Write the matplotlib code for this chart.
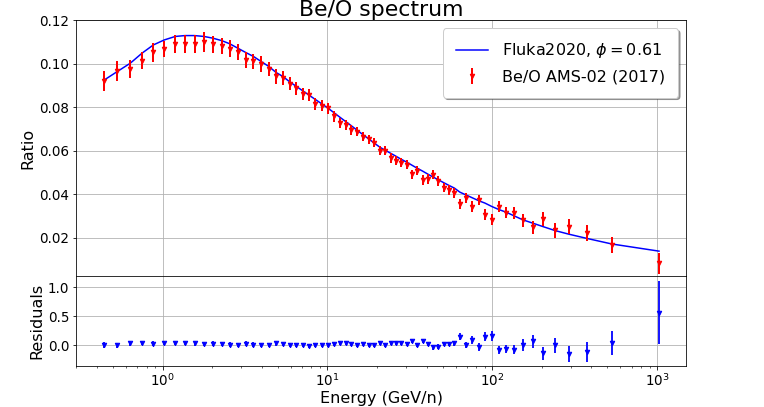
import numpy as np
import matplotlib
matplotlib.use('Agg')
from matplotlib import pyplot as plt

# energies in GeV/n
energy = [0.443, 0.532, 0.637, 0.750, 0.879, 1.024, 1.194, 1.367, 1.563, 1.782,
          2.02, 2.28, 2.56, 2.86, 3.20, 3.56, 3.96, 4.41, 4.89, 5.37,
          5.89, 6.46, 7.09, 7.78, 8.46, 9.25, 10.1, 10.98, 11.94, 12.9,
          14.0, 15.2, 16.4, 17.8, 19.3, 20.8, 22.4, 24.2, 26.1, 28.1,
          30.3, 32.6, 35.1, 37.8, 40.7, 43.7, 47.1, 50.7, 54.7, 58.9,
          63.7, 69.0, 75.3, 82.7, 90.3, 99.6, 109.9, 121.7, 135.9, 153.4,
          175.7, 203, 239.7, 291.6, 378, 531, 1028]

# Be/O AMS-02 (2017)
ams_ratio = [0.0922, 0.0965, 0.0976, 0.1015, 0.1054, 0.1068, 0.1091, 0.1091, 0.1092, 0.1101,
             0.1089, 0.1083, 0.1070, 0.1055, 0.1018, 0.1011, 0.0999, 0.0976, 0.0942, 0.0937,
             0.0908, 0.0888, 0.0862, 0.0857, 0.0816, 0.0807, 0.0796, 0.0758, 0.0730, 0.0718,
             0.0697, 0.0689, 0.0666, 0.0654, 0.0638, 0.0600, 0.0600, 0.0567, 0.0554, 0.0546,
             0.0536, 0.0493, 0.0509, 0.0467, 0.0471, 0.0491, 0.0462, 0.0431, 0.0421, 0.0405,
             0.0354, 0.0385, 0.0344, 0.0373, 0.0306, 0.0283, 0.0344, 0.0316, 0.0313, 0.0280,
             0.0249, 0.0286, 0.0234, 0.0252, 0.0222, 0.0168, 0.0084]
ams_err = [0.0047, 0.0046, 0.0041, 0.0040, 0.0044, 0.0038, 0.0040, 0.0040, 0.0040, 0.0045,
           0.0040, 0.0038, 0.0038, 0.0038, 0.0036, 0.0035, 0.0035, 0.0034, 0.0034, 0.0032,
           0.0030, 0.0030, 0.0029, 0.0028, 0.0027, 0.0026, 0.0025, 0.0024, 0.0023, 0.0023,
           0.0022, 0.0022, 0.0021, 0.0021, 0.0021, 0.0021, 0.0021, 0.0021, 0.0021, 0.0021,
           0.0021, 0.0021, 0.0021, 0.0022, 0.0022, 0.0022, 0.0022, 0.0022, 0.0023, 0.0023,
           0.0023, 0.0023, 0.0024, 0.0024, 0.0025, 0.0025, 0.0026, 0.0026, 0.0027, 0.0029,
           0.0030, 0.0032, 0.0033, 0.0034, 0.0036, 0.0037, 0.0048]

# Fluka2020 model, phi = 0.61
fluka_ratio = [0.0926, 0.0965, 0.1003, 0.1049, 0.1087, 0.1110, 0.1126, 0.1130, 0.1130, 0.1126,
               0.1118, 0.1107, 0.1092, 0.1072, 0.1052, 0.1034, 0.1011, 0.0988, 0.0960, 0.0942,
               0.0918, 0.0897, 0.0876, 0.0855, 0.0836, 0.0816, 0.0796, 0.0775, 0.0754, 0.0735,
               0.0715, 0.0694, 0.0675, 0.0655, 0.0635, 0.0617, 0.0603, 0.0589, 0.0575, 0.0561,
               0.0548, 0.0534, 0.0520, 0.0507, 0.0493, 0.0480, 0.0467, 0.0454, 0.0441, 0.0429,
               0.0410, 0.0398, 0.0385, 0.0371, 0.0360, 0.0344, 0.0330, 0.0318, 0.0301, 0.0283,
               0.0268, 0.0252, 0.0234, 0.0217, 0.0197, 0.0172, 0.0139]

residual = [0.0, -0.005, 0.03, 0.035, 0.025, 0.04, 0.035, 0.035, 0.03, 0.02,
            0.025, 0.02, 0.01, 0.005, 0.025, 0.01, 0.005, 0.005, 0.03, 0.02,
            0.01, 0.0, 0.0, -0.015, 0.0, 0.0, -0.005, 0.02, 0.04, 0.03,
            0.025, 0.005, 0.015, 0.01, 0.005, 0.03, 0.01, 0.035, 0.035, 0.03,
            0.02, 0.07, 0.0, 0.07, 0.02, -0.04, -0.025, 0.02, 0.02, 0.03,
            0.145, 0.0, 0.09, -0.03, 0.145, 0.16, -0.08, -0.06, -0.08, 0.0,
            0.065, -0.145, 0.0, -0.155, -0.115, 0.035, 0.565]
residual_err = [0.05, 0.045, 0.04, 0.04, 0.04, 0.04, 0.04, 0.04, 0.04, 0.04,
                0.04, 0.04, 0.04, 0.04, 0.04, 0.04, 0.04, 0.04, 0.04, 0.04,
                0.035, 0.035, 0.035, 0.035, 0.035, 0.035, 0.035, 0.035, 0.035, 0.035,
                0.035, 0.035, 0.035, 0.035, 0.035, 0.035, 0.035, 0.035, 0.035, 0.035,
                0.035, 0.04, 0.04, 0.04, 0.04, 0.04, 0.04, 0.04, 0.04, 0.04,
                0.06, 0.055, 0.065, 0.065, 0.075, 0.085, 0.07, 0.07, 0.08, 0.10,
                0.11, 0.11, 0.13, 0.14, 0.17, 0.21, 0.54]

# rendered at 72 dpi so points == pixels
fig = plt.figure(figsize=(764 / 72, 407 / 72), dpi=72)
ax = fig.add_axes([0.100, 0.322, 0.798, 0.628])
axr = fig.add_axes([0.100, 0.101, 0.798, 0.221], sharex=ax)

ax.plot(energy, fluka_ratio, c='blue', lw=1.5, label=r'Fluka2020, $\phi=0.61$')
ax.errorbar(energy, ams_ratio, yerr=ams_err, fmt='v', c='red', ms=4.5,
            elinewidth=2, label='Be/O AMS-02 (2017)')
ax.set_xscale('log')
ax.set_xlim(0.30, 1500)
ax.set_ylim(0.0025, 0.12)
ax.set_yticks([0.02, 0.04, 0.06, 0.08, 0.10, 0.12])
ax.set_ylabel('Ratio', fontsize=16)
ax.set_title('Be/O spectrum', fontsize=22, pad=3)
ax.grid(True)
ax.tick_params(labelbottom=False, labelsize=13.5)
ax.legend(loc='upper right', shadow=True, fontsize=16, borderpad=0.8,
          labelspacing=0.6, handletextpad=0.9)

axr.errorbar(energy, residual, yerr=residual_err, fmt='v', c='blue', ms=4.5,
             elinewidth=1.8)
axr.set_ylim(-0.36, 1.20)
axr.set_yticks([0.0, 0.5, 1.0])
axr.set_ylabel('Residuals', fontsize=16)
axr.set_xlabel('Energy (GeV/n)', fontsize=16, labelpad=2)
axr.grid(True)
axr.tick_params(labelsize=13.5)

plt.savefig('out.png', dpi=72)
